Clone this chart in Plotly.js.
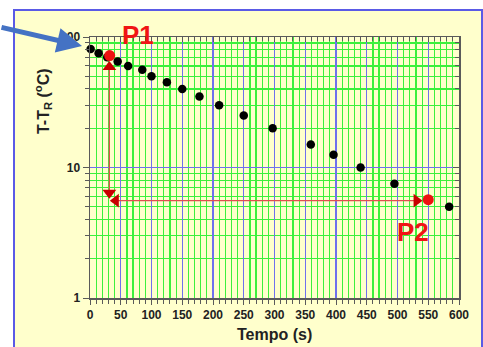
<!DOCTYPE html>
<html>
<head>
<meta charset="utf-8">
<script src="https://cdn.plot.ly/plotly-3.0.1.min.js"></script>
<style>
  html, body { margin:0; padding:0; background:#ffffff; width:483px; height:347px; overflow:hidden; }
  #frame { position:absolute; left:13px; top:9px; width:470px; height:400px; box-sizing:border-box;
           border:2px solid #5a5ae6; background:#ffffcc; }
  #chart { position:absolute; left:0; top:0; width:483px; height:347px; }
</style>
</head>
<body>
<div id="frame"></div>
<div id="chart"></div>
<script>
// Measured data (time in s, temperature difference in °C)
const tempo = [1, 14, 28, 45, 62, 85, 100, 125, 150, 178, 210, 250, 297, 359, 396, 440, 495, 584];
const deltaT = [81, 75, 70, 65, 60, 56, 50, 45, 40, 35, 30, 25, 20, 15, 12.5, 10, 7.5, 5.0];

// Highlighted points
const pointX = [32, 550];
const pointY = [72, 5.67];
const pointLabels = ['P1', 'P2'];

// Construction arrows
const arrowVX = [31.5, 31.5];
const arrowVY = [59, 6.4];
const arrowHX = [42, 531];
const arrowHY = [5.57, 5.57];

const xTicks = [0, 50, 100, 150, 200, 250, 300, 350, 400, 450, 500, 550, 600];
const yTicks = [1, 10, 100];
const yTickText = ['1', '10', '100'];

const minorY = [];
[1, 10].forEach(d => { for (let k = 2; k <= 9; k++) minorY.push(k * d); });

const green = '#3cf03c';
const blue = '#7070ee';
const axisCol = '#5a5a5a';
const font = 'Liberation Sans, Arial, sans-serif';
const arrowLine = '#e05050';
const arrowHead = '#c80000';

const traces = [
  { x: tempo, y: deltaT, type: 'scatter', mode: 'markers',
    marker: { color: '#000000', size: 8.5 }, cliponaxis: false, hoverinfo: 'skip' },
  { x: arrowVX, y: arrowVY, type: 'scatter', mode: 'lines',
    line: { color: arrowLine, width: 1.3 }, hoverinfo: 'skip' },
  { x: arrowHX, y: arrowHY, type: 'scatter', mode: 'lines',
    line: { color: arrowLine, width: 1.3 }, hoverinfo: 'skip' },
  { x: [arrowVX[0], arrowVX[1], arrowHX[0], arrowHX[1]],
    y: [arrowVY[0], arrowVY[1], arrowHY[0], arrowHY[1]],
    type: 'scatter', mode: 'markers',
    marker: { color: arrowHead, size: 12,
      symbol: ['triangle-up', 'triangle-down', 'triangle-left', 'triangle-right'] },
    hoverinfo: 'skip' },
  { x: pointX, y: pointY, type: 'scatter', mode: 'markers',
    marker: { color: '#ee1111', size: 11 }, cliponaxis: false, hoverinfo: 'skip' },
  { x: [null], y: [null], xaxis: 'x2', yaxis: 'y2', type: 'scatter', mode: 'markers',
    showlegend: false, hoverinfo: 'skip' }
];

const layout = {
  width: 483, height: 347,
  margin: { l: 90, r: 24, t: 37, b: 49 },
  paper_bgcolor: 'rgba(0,0,0,0)',
  plot_bgcolor: '#ffffcc',
  showlegend: false,
  font: { family: font, color: '#222222' },
  xaxis: {
    range: [0, 600], tickvals: xTicks, ticktext: xTicks.map(String),
    showgrid: true, gridcolor: blue, gridwidth: 1.2, zeroline: false,
    showline: true, linecolor: axisCol, linewidth: 1.5, mirror: true,
    ticks: 'outside', ticklen: 5, tickcolor: axisCol, tickwidth: 1,
    tickfont: { size: 12, family: font, weight: 'bold', color: '#222' },
    minor: { dtick: 10, tick0: 0, showgrid: true, gridcolor: green, gridwidth: 1.2,
             ticks: 'outside', ticklen: 4, tickcolor: axisCol },
    title: { text: '' }
  },
  yaxis: {
    type: 'log', range: [0, 2], tickmode: 'array', tickvals: yTicks, ticktext: yTickText,
    showgrid: true, gridcolor: blue, gridwidth: 1.2, zeroline: false,
    showline: true, linecolor: axisCol, linewidth: 1.5, mirror: true,
    ticks: 'outside', ticklen: 6, tickcolor: axisCol, tickwidth: 1,
    tickfont: { size: 12, family: font, weight: 'bold', color: '#222' },
    minor: { tickmode: 'array', tickvals: minorY, showgrid: true, gridcolor: green, gridwidth: 1.2,
             ticks: 'outside', ticklen: 4, tickcolor: axisCol },
    title: { text: '' }
  },
  xaxis2: {
    overlaying: 'x', side: 'top', range: [0, 600], tickvals: xTicks,
    showticklabels: false, showgrid: false, zeroline: false, showline: false,
    ticks: 'inside', ticklen: 5, tickcolor: axisCol,
    minor: { dtick: 10, tick0: 0, ticks: 'inside', ticklen: 4, tickcolor: axisCol, showgrid: false }
  },
  yaxis2: {
    overlaying: 'y', side: 'right', type: 'log', range: [0, 2], tickmode: 'array', tickvals: yTicks,
    showticklabels: false, showgrid: false, zeroline: false, showline: false,
    ticks: 'inside', ticklen: 6, tickcolor: axisCol,
    minor: { tickmode: 'array', tickvals: minorY, ticks: 'inside', ticklen: 4, tickcolor: axisCol, showgrid: false }
  },
  annotations: [
    { xref: 'paper', yref: 'paper', x: 0.5, y: -0.14, xanchor: 'center', yanchor: 'middle',
      text: 'Tempo (s)', showarrow: false,
      font: { size: 16, family: font, weight: 'bold', color: '#222' } },
    { xref: 'paper', yref: 'paper', x: -0.127, y: 0.755, xanchor: 'center', yanchor: 'middle',
      text: 'T-T<sub>R</sub> (<sup>o</sup>C)', textangle: -90, showarrow: false,
      font: { size: 16, family: font, weight: 'bold', color: '#222' } },
    { xref: 'paper', yref: 'paper', x: 0.130, y: 1.008, text: pointLabels[0], showarrow: false,
      xanchor: 'center', yanchor: 'middle',
      font: { size: 26, family: font, weight: 'bold', color: '#f01414' } },
    { xref: 'x', yref: 'y', x: 525, y: 0.508, text: pointLabels[1], showarrow: false,
      xanchor: 'center', yanchor: 'middle',
      font: { size: 26, family: font, weight: 'bold', color: '#f01414' } },
    { xref: 'paper', yref: 'paper', x: -0.0217, y: 0.9655, text: '', showarrow: true,
      ax: -84, ay: -19, arrowcolor: '#4472c4', arrowwidth: 5, arrowhead: 2, arrowsize: 1 }
  ]
};

Plotly.newPlot('chart', traces, layout, { displayModeBar: false, staticPlot: true });
</script>
</body>
</html>
